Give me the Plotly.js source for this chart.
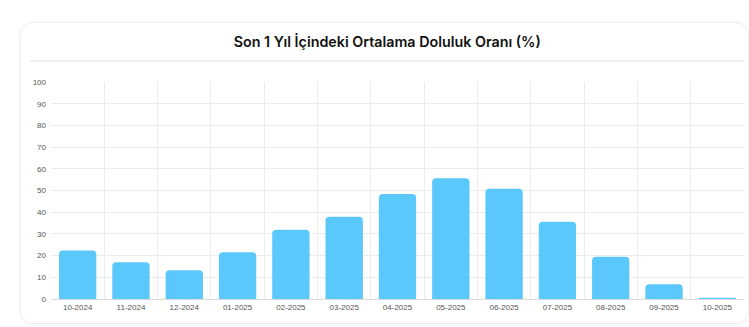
<!DOCTYPE html>
<html>
<head>
<meta charset="utf-8">
<script src="https://cdn.plot.ly/plotly-3.0.1.min.js"></script>
<style>
  html, body { margin: 0; padding: 0; background: #ffffff; width: 749px; height: 327px; overflow: hidden; }
  #card { position: absolute; left: 20px; top: 22px; width: 727px; height: 300px; border: 1px solid #f0f0f0; border-radius: 14px; box-shadow: 0 1px 4px rgba(0,0,0,0.06); background: #fff; }
  #sep { position: absolute; left: 30px; top: 60px; width: 714px; height: 2px; background: #f0f0f0; }
  #chart { position: absolute; left: 0; top: 0; width: 749px; height: 327px; }
</style>
</head>
<body>
<div id="card"></div>
<div id="sep"></div>
<div id="chart"></div>
<script>
const months = ["10-2024","11-2024","12-2024","01-2025","02-2025","03-2025","04-2025","05-2025","06-2025","07-2025","08-2025","09-2025","10-2025"];
const occupancy = [22.4, 16.9, 13.2, 21.5, 31.9, 37.9, 48.4, 55.6, 50.8, 35.6, 19.5, 6.8, 0.6];
const yTicks = [0,10,20,30,40,50,60,70,80,90,100];
const chartTitle = "Son 1 Yıl İçindeki Ortalama Doluluk Oranı (%)";

const trace = {
  type: "bar",
  x: months,
  y: occupancy,
  marker: { color: "#5ac8fa", cornerradius: 4 },
  hoverinfo: "x+y"
};

const layout = {
  width: 749, height: 327,
  margin: { l: 51, r: 5, t: 82, b: 28 },
  paper_bgcolor: "rgba(0,0,0,0)",
  plot_bgcolor: "rgba(0,0,0,0)",
  bargap: 0.3,
  showlegend: false,
  title: {
    text: chartTitle,
    font: { family: "Inter, sans-serif", size: 14.3, color: "#111", weight: 600 },
    xref: "container", x: 0.517, xanchor: "center",
    yref: "container", y: 1 - 42/327, yanchor: "middle"
  },
  xaxis: {
    type: "category",
    tickson: "boundaries",
    showgrid: true, gridcolor: "#ececec", gridwidth: 1,
    showline: true, linecolor: "#dcdcdc", linewidth: 1,
    ticks: "", ticklen: 0,
    tickfont: { family: "Liberation Sans, Arial, sans-serif", size: 8, color: "#555" },
    zeroline: false, fixedrange: true
  },
  yaxis: {
    range: [0, 100],
    tickvals: yTicks,
    ticktext: yTicks.map(String),
    showgrid: true, gridcolor: "#ececec", gridwidth: 1,
    zeroline: false, showline: false,
    ticks: "", ticklabelstandoff: 4,
    tickfont: { family: "Liberation Sans, Arial, sans-serif", size: 8, color: "#555" },
    fixedrange: true
  }
};

Plotly.newPlot("chart", [trace], layout, { displayModeBar: false, staticPlot: true });
</script>
</body>
</html>
